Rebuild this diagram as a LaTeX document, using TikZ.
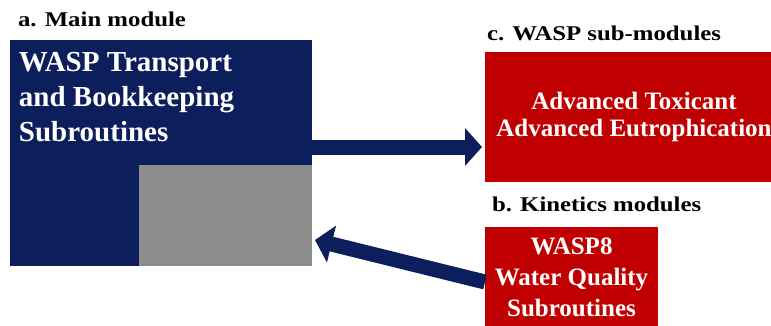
\documentclass[tikz,border=0pt]{standalone}
\usepackage{fontspec}
\setmainfont{Liberation Serif}
\newfontfamily\headfont[FakeStretch=1.18]{Liberation Serif}
\usetikzlibrary{arrows.meta, positioning}
\definecolor{waspBlue}{HTML}{0C1E5C}
\definecolor{waspRed}{HTML}{C00000}
\definecolor{waspGray}{HTML}{8C8C8C}
\tikzset{
  waspfig/.style={
    x=1pt, y=-1pt,
    every node/.append style={inner sep=0pt, outer sep=0pt},
  },
  mainnode/.style={fill=waspBlue, anchor=north west, minimum width=302pt, minimum height=226pt},
  hostnode/.style={fill=waspGray, minimum width=173pt, minimum height=101pt},
  modnode/.style={fill=waspRed, anchor=north west, text=white, align=center},
  % Ueberschriften ueber den Kaesten
  headlabel/.style={anchor=base west, font=\headfont\fontsize{21}{25}\selectfont\bfseries},
  flowarrow/.style={draw=waspBlue, line width=15pt, -{Triangle[length=17pt, width=37pt]}},
}
\begin{document}
\begin{tikzpicture}[waspfig]
  \useasboundingbox (0,0) rectangle (771,325);
  \clip (0,0) rectangle (771,325);

  \node[headlabel] (mainlabel) at (18,26.5) {a. Main module};
  \node[mainnode] (mainbox) at (10,40) {};
  \node[hostnode, anchor=south east] (hostbox) at (mainbox.south east) {};
  \node[anchor=north west, align=left, text=white,
        font=\fontsize{29}{35}\selectfont\bfseries] (maintext) at (19,52.5)
       {WASP Transport\\and Bookkeeping\\Subroutines};

  \node[headlabel] (sublabel) at (487,40) {c. WASP sub-modules};
  \node[modnode, minimum width=298pt, minimum height=130pt,
        font=\fontsize{25}{27}\selectfont\bfseries] (subbox) at (485,52)
       {Advanced Toxicant\\Advanced Eutrophication};

  \node[headlabel] (kinlabel) at (492,211.7) {b. Kinetics modules};
  \node[modnode, minimum width=173pt, minimum height=100pt,
        font=\fontsize{25}{31}\selectfont\bfseries] (kinbox) at (485,227)
       {WASP8\\Water Quality\\Subroutines};

  \draw[flowarrow, shorten >=3pt] ([yshift=6pt]mainbox.east) -- ([yshift=6pt]mainbox.east -| subbox.west);
  \draw[flowarrow] ([yshift=-5pt]kinbox.west) -- ([xshift=3pt, yshift=-24.5pt]hostbox.east);
\end{tikzpicture}
\end{document}
